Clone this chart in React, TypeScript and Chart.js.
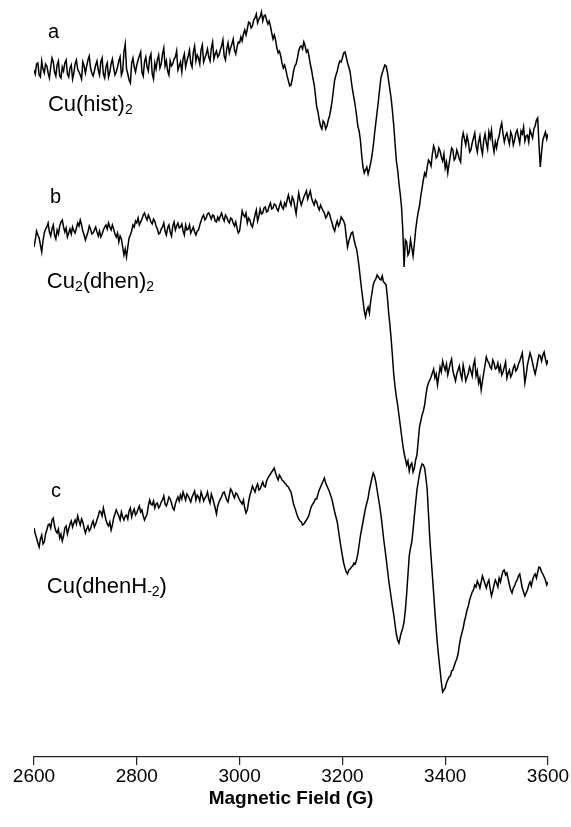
import React, { useEffect, useRef } from 'react';
import { Chart, registerables } from 'chart.js';

Chart.register(...registerables);

// Field sweep: 2600 G to 3600 G, one sample every 2.5 G
const FIELD_START = 2600;
const FIELD_STEP = 2.5;

// First-derivative EPR signals (arbitrary units, 0 = left baseline of each trace)
const signalA = [
  0, -4, 6, 7, -5, -7, 9, 1, -3, 6, 4, -3, -8, 3, 12, 8, -2, -6, 5, 9, -6, -8, 3, -1, 7, 10, -4, -7, 2, 5, -9, -3, 6, 10, 1, -2, -5, -9, 8, 4,
  -3, 4, 10, 14, 2, -3, -6, -1, 5, 9, 0, -5, 8, 12, -4, -8, 3, 7, -7, -2, 6, 11, 2, -5, -2, 3, 9, 13, -5, -1, 18, 26, 1, -4, -10, -13, 7, 12, 3, -2,
  5, 10, 14, 18, -2, -6, 8, 13, 3, -1, 12, 16, -4, -9, 7, 1, 10, 15, 2, 6, 16, 22, 4, 9, -1, -5, 9, 4, 6, 11, 13, 19, 0, 4, 8, -2, 11, 16, 3, 9,
  14, 20, 7, 3, 18, 24, 9, 15, 12, 6, 20, 25, 8, 12, 16, 21, 13, 9, 22, 28, 11, 16, 19, 13, 15, 20, 24, 30, 14, 10, 21, 27, 17, 22, 26, 31, 20, 16, 23, 28,
  27, 33, 29, 36, 40, 35, 41, 48, 47, 42, 44, 50, 52, 56, 47, 51, 53, 58, 49, 54, 55, 50, 46, 49, 44, 37, 31, 35, 30, 22, 17, 19, 14, 7, 2, 5, 0, -6, -11, -16,
  -15, -9, -1, 4, 6, 12, 19, 23, 24, 21, 28, 24, 18, 20, 14, 6, 0, -8, -14, -25, -37, -42, -50, -56, -59, -51, -53, -59, -56, -50, -46, -39, -31, -20, -10, -5, -1, 5, 9, 8,
  12, 17, 18, 13, 7, 3, -2, -12, -21, -28, -36, -45, -56, -61, -70, -85, -97, -103, -100, -97, -104, -99, -93, -86, -76, -64, -53, -42, -31, -19, -8, -3, 1, 5, 4, -2, -11, -20, -29, -42,
  -56, -74, -91, -100, -113, -124, -137, -160, -197, -170, -172, -185, -182, -170, -178, -186, -174, -160, -150, -142, -136, -126, -118, -110, -103, -106, -97, -90, -92, -96, -84, -76, -80, -88, -86, -78, -81, -87, -91, -84,
  -98, -92, -103, -94, -86, -78, -80, -90, -88, -80, -84, -89, -92, -70, -63, -69, -75, -66, -72, -82, -80, -73, -68, -63, -76, -82, -72, -66, -78, -84, -70, -64, -73, -79, -62, -68, -60, -74, -82, -72,
  -78, -70, -66, -58, -53, -64, -72, -66, -63, -69, -74, -62, -66, -75, -70, -63, -60, -67, -73, -61, -64, -57, -71, -66, -65, -72, -60, -64, -68, -59, -56, -50, -48, -75, -97, -82, -70, -66, -62, -69,
  -64,
];

const signalB = [
  -12, -5, 4, 0, -3, -10, -17, -6, 2, 6, 8, 12, 3, -1, 6, 10, 0, -4, 5, 1, 9, 13, 15, 8, 3, 7, -2, 2, 6, 1, 8, 4, 2, 7, 12, 9, 15, 10, 4, 0,
  -5, -1, 3, 9, 6, 1, 2, 5, 8, 3, -1, 4, -2, 1, 5, 8, 10, 6, 12, 8, 5, 10, 6, 1, -2, 2, -7, -1, -4, -12, -20, -14, -22, -12, -3, 0, 4, 10, 8, 14,
  12, 17, 10, 13, 16, 20, 22, 18, 15, 20, 17, 13, 11, 16, 14, 9, 6, 1, 2, 6, 8, 12, 4, 0, 7, 10, 3, -1, 9, 13, 5, 9, 12, 7, 8, 11, 4, 0, 10, 5,
  6, 10, 2, 5, 8, 3, 0, 4, 5, 10, 14, 18, 20, 15, 17, 21, 22, 19, 16, 20, 19, 14, 13, 18, 15, 19, 22, 17, 14, 20, 18, 14, 12, 17, 16, 12, 9, 13, 7, 2,
  4, 14, 24, 20, 18, 22, 12, 17, 15, 10, 8, 14, 20, 25, 14, 19, 26, 21, 22, 27, 28, 23, 24, 29, 32, 26, 27, 31, 30, 26, 24, 29, 33, 28, 26, 32, 29, 35, 40, 34,
  30, 38, 35, 28, 21, 32, 42, 35, 30, 34, 38, 41, 44, 36, 40, 44, 37, 33, 30, 35, 33, 28, 25, 30, 27, 24, 22, 17, 19, 23, 21, 16, 12, 7, 4, 10, 14, 9, 12, 18,
  16, 14, 10, -2, -12, -6, -2, 2, 3, -4, -10, -14, -22, -32, -44, -55, -65, -76, -82, -75, -72, -78, -66, -58, -50, -46, -44, -40, -42, -44, -45, -41, -47, -48, -50, -62, -78, -90, -105, -122,
  -140, -152, -162, -170, -180, -190, -200, -210, -218, -224, -230, -226, -236, -230, -228, -237, -233, -225, -220, -206, -192, -186, -180, -176, -170, -160, -152, -148, -145, -142, -138, -134, -143, -139, -150, -141, -132, -137, -126, -131,
  -135, -129, -140, -134, -128, -124, -136, -141, -146, -139, -135, -131, -139, -144, -130, -137, -146, -142, -138, -132, -136, -141, -130, -125, -141, -136, -148, -143, -155, -146, -138, -130, -122, -126, -128, -132, -134, -125, -128, -134,
  -133, -128, -136, -131, -140, -137, -132, -127, -143, -138, -135, -142, -139, -133, -130, -136, -134, -129, -126, -122, -118, -132, -148, -140, -130, -124, -118, -122, -128, -134, -139, -133, -126, -120, -121, -126, -120, -117, -124, -129,
  -125,
];

const signalC = [
  2, -4, -8, -13, -17, -9, -5, -14, -12, -4, 0, 5, 6, 2, 10, 12, 4, -1, -3, 1, -8, -4, -11, -6, 2, 4, -4, 1, 6, 9, 3, 7, 10, 6, 14, 9, 5, 11, 8, 2,
  -3, 1, 4, -1, 1, 6, 9, 3, 6, 10, 14, 19, 18, 14, 22, 16, 10, 6, 4, 8, 0, 5, 12, 16, 20, 17, 14, 10, 18, 13, 10, 14, 15, 11, 19, 22, 13, 18, 21, 15,
  17, 21, 24, 18, 20, 14, 10, 13, 16, 24, 30, 26, 25, 29, 22, 26, 27, 22, 24, 28, 30, 34, 26, 24, 28, 33, 31, 27, 22, 20, 26, 30, 33, 29, 35, 31, 38, 34, 30, 36,
  34, 31, 28, 33, 36, 39, 30, 35, 33, 29, 38, 34, 29, 32, 34, 38, 31, 27, 36, 32, 27, 22, 16, 24, 28, 31, 33, 37, 38, 34, 30, 28, 35, 41, 39, 35, 32, 37, 36, 33,
  30, 28, 26, 30, 22, 17, 20, 28, 35, 39, 44, 41, 38, 43, 46, 40, 41, 45, 48, 44, 43, 49, 52, 54, 56, 58, 60, 62, 57, 53, 50, 55, 53, 50, 49, 47, 46, 44, 43, 40,
  38, 32, 26, 22, 18, 14, 11, 9, 8, 5, 6, 8, 10, 12, 15, 20, 24, 26, 28, 31, 31, 36, 40, 43, 46, 49, 52, 47, 44, 41, 38, 34, 30, 24, 18, 13, 8, -1, -10, -18,
  -26, -33, -38, -42, -44, -40, -39, -37, -36, -33, -34, -30, -24, -15, -6, 1, 8, 15, 22, 27, 32, 40, 46, 52, 57, 54, 48, 40, 32, 24, 15, 4, -8, -18, -28, -39, -50, -59, -68, -77,
  -85, -95, -104, -110, -113, -107, -102, -98, -92, -80, -64, -45, -26, -18, -12, 0, 14, 27, 40, 48, 56, 62, 66, 65, 62, 52, 40, 16, -8, -27, -45, -63, -82, -99, -115, -128, -140, -152, -162, -160,
  -158, -153, -150, -147, -146, -141, -140, -136, -132, -129, -124, -115, -108, -103, -98, -91, -86, -80, -76, -70, -66, -62, -60, -55, -57, -51, -54, -58, -52, -46, -50, -54, -58, -53, -50, -59, -66, -61, -55, -50,
  -53, -57, -48, -52, -46, -41, -40, -45, -43, -49, -55, -60, -63, -58, -56, -52, -50, -46, -44, -51, -58, -62, -66, -63, -60, -55, -52, -56, -50, -46, -44, -48, -42, -37, -38, -42, -44, -47, -50, -55,
  -52,
];

// Vertical stacking of the three spectra
const OFFSET_A = 687;
const OFFSET_B = 522;
const OFFSET_C = 227;

const FIELD_MIN = 2600;
const FIELD_MAX = 3600;
const FIELD_TICK_STEP = 200;
const AXIS_TITLE = 'Magnetic Field (G)';

const FONT = '"Liberation Sans", Arial, Helvetica, sans-serif';

type Part = { text: string; sub?: boolean };
type TraceLabel = { field: number; level: number; size: number; parts: Part[] };

const traceLabels: TraceLabel[] = [
  { field: 2627, level: 719, size: 20, parts: [{ text: 'a' }] },
  { field: 2627, level: 646, size: 22, parts: [{ text: 'Cu(hist)' }, { text: '2', sub: true }] },
  { field: 2631, level: 554, size: 20, parts: [{ text: 'b' }] },
  {
    field: 2625,
    level: 469,
    size: 22,
    parts: [{ text: 'Cu' }, { text: '2', sub: true }, { text: '(dhen)' }, { text: '2', sub: true }],
  },
  { field: 2633, level: 260, size: 20, parts: [{ text: 'c' }] },
  {
    field: 2625,
    level: 164,
    size: 22,
    parts: [{ text: 'Cu(dhenH' }, { text: '-2', sub: true }, { text: ')' }],
  },
];

const field = signalA.map((_, i) => FIELD_START + i * FIELD_STEP);
const toPoints = (sig: number[], offset: number) =>
  sig.map((v, i) => ({ x: field[i], y: v + offset }));

const traceLabelPlugin = {
  id: 'traceLabels',
  afterDatasetsDraw(chart: any) {
    const { ctx, scales } = chart;
    const xs = scales.x;
    const ys = scales.y;
    ctx.save();
    ctx.fillStyle = '#000';
    ctx.textBaseline = 'alphabetic';
    ctx.textAlign = 'left';
    for (const lab of traceLabels) {
      let x = xs.getPixelForValue(lab.field);
      const y = ys.getPixelForValue(lab.level);
      for (const p of lab.parts) {
        const size = p.sub ? Math.round(lab.size * 0.62) : lab.size;
        ctx.font = `${size}px ${FONT}`;
        ctx.fillText(p.text, x, p.sub ? y + 3 : y);
        x += ctx.measureText(p.text).width;
      }
    }
    ctx.restore();
  },
};

export default function App() {
  const canvasRef = useRef<HTMLCanvasElement | null>(null);

  useEffect(() => {
    if (!canvasRef.current) return;
    const line = (data: { x: number; y: number }[]) => ({
      data,
      borderColor: '#000',
      borderWidth: 1.5,
      pointRadius: 0,
      tension: 0,
      fill: false,
    });
    const chart = new Chart(canvasRef.current, {
      type: 'line',
      data: {
        datasets: [
          line(toPoints(signalA, OFFSET_A)),
          line(toPoints(signalB, OFFSET_B)),
          line(toPoints(signalC, OFFSET_C)),
        ],
      },
      options: {
        animation: false,
        responsive: false,
        events: [],
        layout: { padding: { left: 34, right: 23, top: 7, bottom: 16.4 } },
        plugins: {
          legend: { display: false },
          tooltip: { enabled: false },
        },
        scales: {
          x: {
            type: 'linear',
            min: FIELD_MIN,
            max: FIELD_MAX,
            ticks: {
              stepSize: FIELD_TICK_STEP,
              color: '#000',
              padding: 0,
              maxRotation: 0,
              autoSkip: false,
              font: { family: FONT, size: 19 },
              callback: (v: any) => String(v),
            },
            grid: {
              drawOnChartArea: false,
              drawTicks: true,
              tickLength: 8,
              color: '#222',
              lineWidth: 1.2,
            },
            border: { display: true, color: '#222', width: 1.2 },
            title: {
              display: true,
              text: AXIS_TITLE,
              color: '#000',
              font: { family: FONT, size: 19, weight: 'bold' },
              padding: { top: 0, bottom: 0 },
            },
          },
          y: { display: false, min: 0, max: 750 },
        },
      },
      plugins: [traceLabelPlugin],
    });
    return () => chart.destroy();
  }, []);

  return (
    <div style={{ position: 'absolute', left: 0, top: 0, width: 571, height: 827, background: '#fff' }}>
      <canvas ref={canvasRef} width={571} height={827} style={{ display: 'block' }} />
    </div>
  );
}
